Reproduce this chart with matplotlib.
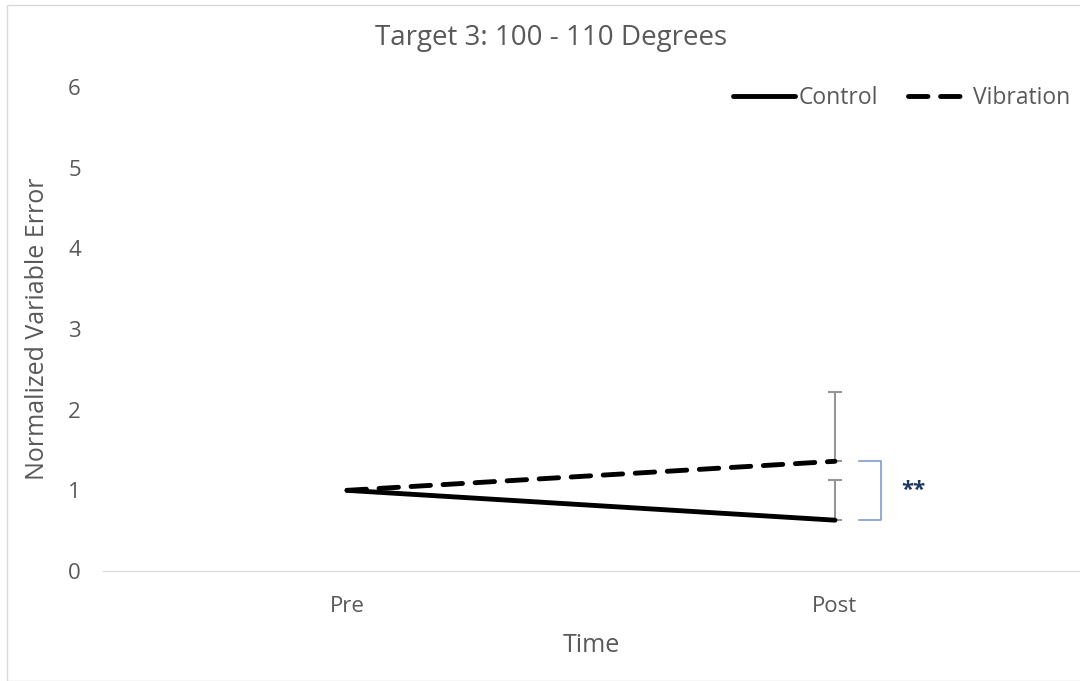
import matplotlib.pyplot as plt
from matplotlib.patches import Rectangle

times = ["Pre", "Post"]
control = [1.0, 0.63]
vibration = [1.0, 1.36]
control_err = [0, 0.50]
vibration_err = [0, 0.86]

plt.rcParams['font.family'] = ['Open Sans', 'DejaVu Sans']
txt = '#595959'

fig = plt.figure(figsize=(10.8, 6.81), dpi=100)
ax = fig.add_axes([103/1080, 1 - 571/681, 976/1080, (571 - 87)/681])
fig.add_artist(Rectangle((7/1080, 0), 1, 1 - 5/681, transform=fig.transFigure,
                         fill=False, edgecolor='#d9d9d9', linewidth=1))

x = list(range(len(times)))

# upper error bars only where there is an error
for vals, errs in [(control, control_err), (vibration, vibration_err)]:
    xs = [xi for xi, e in zip(x, errs) if e > 0]
    ys = [v for v, e in zip(vals, errs) if e > 0]
    es = [e for e in errs if e > 0]
    ax.errorbar(xs, ys, yerr=[[0] * len(es), es], fmt='none', ecolor='#969696',
                elinewidth=1.5, capsize=5, capthick=1.5)

ax.plot(x, control, color='black', linewidth=3.5, label='Control', solid_capstyle='round')
ax.plot(x, vibration, color='black', linewidth=3.5, linestyle=(0, (4, 2.6)), label='Vibration',
        dash_capstyle='round')

# significance bracket
ax.plot([1.05, 1.095, 1.095, 1.05], [vibration[1], vibration[1], control[1], control[1]],
        color='#7f9ccf', linewidth=1.2)
ax.text(1.135, (vibration[1] + control[1]) / 2, '**', color='#1f3864', fontsize=16,
        fontweight='bold', ha='left', va='center')

ax.set_xlim(-0.5, 1.5)
ax.set_ylim(0, 6)
ax.set_xticks(x)
ax.set_xticklabels(times)
ax.set_yticks(range(7))
for s in ['top', 'right', 'left']:
    ax.spines[s].set_visible(False)
ax.spines['bottom'].set_color('#d9d9d9')
ax.tick_params(length=0, labelcolor=txt, labelsize=16)
ax.tick_params(axis='y', pad=16)
ax.tick_params(axis='x', pad=18)
ax.set_xlabel('Time', color=txt, fontsize=18)
ax.xaxis.set_label_coords(0.5, -0.153)
ax.xaxis.label.set_va('center')
ax.set_ylabel('Normalized Variable Error', color=txt, fontsize=18)
ax.yaxis.set_label_coords(-0.0666, 0.5)
ax.yaxis.label.set_va('center')
fig.text(551/1080, 1 - 38/681, 'Target 3: 100 - 110 Degrees', color=txt, fontsize=20,
         ha='center', va='center')
ax.legend(loc='center right', ncol=2, frameon=False, fontsize=16.5, labelcolor=txt,
          handlelength=2.7, handletextpad=0.15, columnspacing=1.3,
          borderpad=0, borderaxespad=0, bbox_to_anchor=(0.991, 0.977))

fig.savefig('out.png', dpi=100)
